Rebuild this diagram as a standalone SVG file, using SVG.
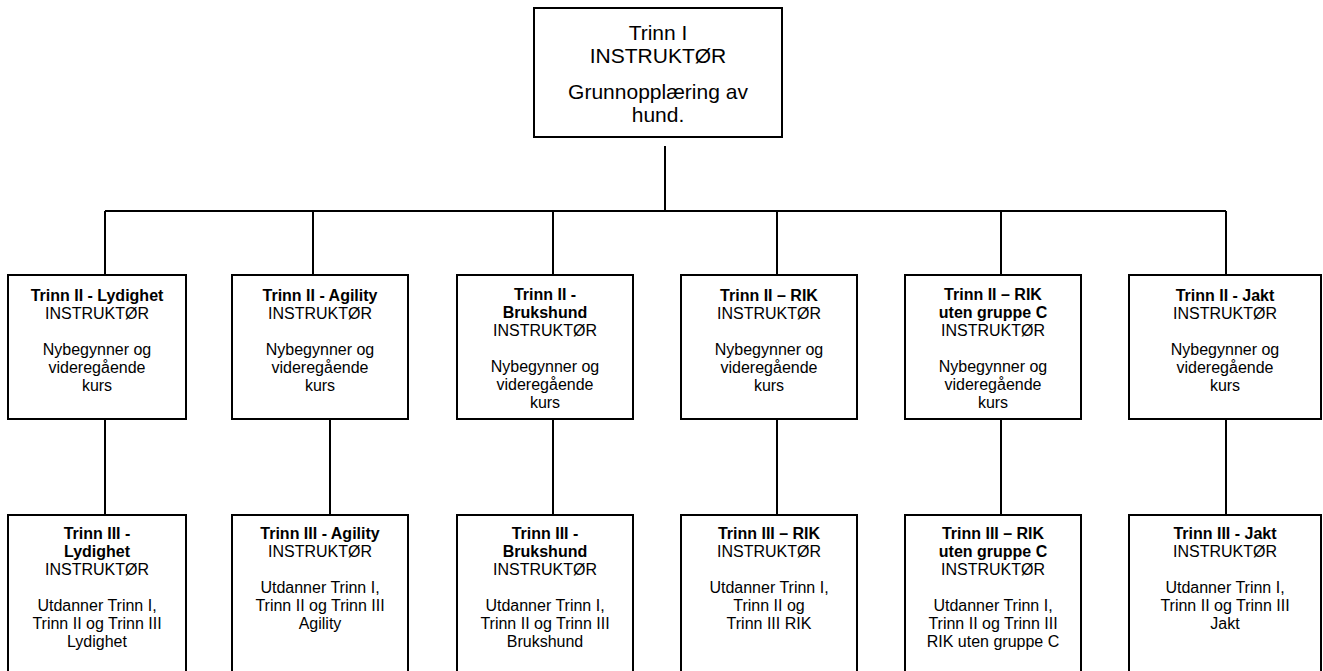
<svg xmlns="http://www.w3.org/2000/svg" width="1323" height="671" viewBox="0 0 1323 671">
<style>
.box{fill:#fff;stroke:#000;stroke-width:2}
.ln{stroke:#000;stroke-width:2;fill:none}
text{font-family:"Liberation Sans",Arial,sans-serif;fill:#000;text-anchor:middle}
.t{font-size:16px}
.b{font-weight:bold}
.top{font-size:21px}
</style>
<rect x="0" y="0" width="1323" height="671" fill="#fff"/>
<g id="connectors">
<path class="ln" d="M665 146V211M105 211H1226M105 211V275M313 211V275M553 211V275M777 211V275M1001 211V275M1226 211V275"/>
<path class="ln" d="M105 419V515M330 419V515M553 419V515M777 419V515M1001 419V515M1226 419V515"/>
</g>
<g id="n0">
<rect class="box" x="534" y="8" width="248" height="129"/>
<text class="top" x="658" y="40">Trinn I</text>
<text class="top" x="658" y="63">INSTRUKTØR</text>
<text class="top" x="658" y="99">Grunnopplæring av</text>
<text class="top" x="658" y="122">hund.</text>
</g>
<g id="n1">
<rect class="box" x="8" y="275" width="178" height="144"/>
<text class="t" x="97" y="301"><tspan class="b">Trinn II - Lydighet</tspan><tspan x="97" dy="18">INSTRUKTØR</tspan><tspan x="97" dy="36">Nybegynner og</tspan><tspan x="97" dy="18">videregående</tspan><tspan x="97" dy="18">kurs</tspan></text>
</g>
<g id="n2">
<rect class="box" x="232" y="275" width="176" height="144"/>
<text class="t" x="320" y="301"><tspan class="b">Trinn II - Agility</tspan><tspan x="320" dy="18">INSTRUKTØR</tspan><tspan x="320" dy="36">Nybegynner og</tspan><tspan x="320" dy="18">videregående</tspan><tspan x="320" dy="18">kurs</tspan></text>
</g>
<g id="n3">
<rect class="box" x="457" y="275" width="176" height="144"/>
<text class="t" x="545" y="300"><tspan class="b">Trinn II -</tspan><tspan class="b" x="545" dy="18">Brukshund</tspan><tspan x="545" dy="18">INSTRUKTØR</tspan><tspan x="545" dy="36">Nybegynner og</tspan><tspan x="545" dy="18">videregående</tspan><tspan x="545" dy="18">kurs</tspan></text>
</g>
<g id="n4">
<rect class="box" x="681" y="275" width="176" height="144"/>
<text class="t" x="769" y="301"><tspan class="b">Trinn II – RIK</tspan><tspan x="769" dy="18">INSTRUKTØR</tspan><tspan x="769" dy="36">Nybegynner og</tspan><tspan x="769" dy="18">videregående</tspan><tspan x="769" dy="18">kurs</tspan></text>
</g>
<g id="n5">
<rect class="box" x="905" y="275" width="176" height="144"/>
<text class="t" x="993" y="300"><tspan class="b">Trinn II – RIK</tspan><tspan class="b" x="993" dy="18">uten gruppe C</tspan><tspan x="993" dy="18">INSTRUKTØR</tspan><tspan x="993" dy="36">Nybegynner og</tspan><tspan x="993" dy="18">videregående</tspan><tspan x="993" dy="18">kurs</tspan></text>
</g>
<g id="n6">
<rect class="box" x="1129" y="275" width="192" height="144"/>
<text class="t" x="1225" y="301"><tspan class="b">Trinn II - Jakt</tspan><tspan x="1225" dy="18">INSTRUKTØR</tspan><tspan x="1225" dy="36">Nybegynner og</tspan><tspan x="1225" dy="18">videregående</tspan><tspan x="1225" dy="18">kurs</tspan></text>
</g>
<g id="n7">
<rect class="box" x="8" y="515" width="178" height="170"/>
<text class="t" x="97" y="539"><tspan class="b">Trinn III -</tspan><tspan class="b" x="97" dy="18">Lydighet</tspan><tspan x="97" dy="18">INSTRUKTØR</tspan><tspan x="97" dy="36">Utdanner Trinn I,</tspan><tspan x="97" dy="18">Trinn II og Trinn III</tspan><tspan x="97" dy="18">Lydighet</tspan></text>
</g>
<g id="n8">
<rect class="box" x="232" y="515" width="176" height="170"/>
<text class="t" x="320" y="539"><tspan class="b">Trinn III - Agility</tspan><tspan x="320" dy="18">INSTRUKTØR</tspan><tspan x="320" dy="36">Utdanner Trinn I,</tspan><tspan x="320" dy="18">Trinn II og Trinn III</tspan><tspan x="320" dy="18">Agility</tspan></text>
</g>
<g id="n9">
<rect class="box" x="457" y="515" width="176" height="170"/>
<text class="t" x="545" y="539"><tspan class="b">Trinn III -</tspan><tspan class="b" x="545" dy="18">Brukshund</tspan><tspan x="545" dy="18">INSTRUKTØR</tspan><tspan x="545" dy="36">Utdanner Trinn I,</tspan><tspan x="545" dy="18">Trinn II og Trinn III</tspan><tspan x="545" dy="18">Brukshund</tspan></text>
</g>
<g id="n10">
<rect class="box" x="681" y="515" width="176" height="170"/>
<text class="t" x="769" y="539"><tspan class="b">Trinn III – RIK</tspan><tspan x="769" dy="18">INSTRUKTØR</tspan><tspan x="769" dy="36">Utdanner Trinn I,</tspan><tspan x="769" dy="18">Trinn II og</tspan><tspan x="769" dy="18">Trinn III RIK</tspan></text>
</g>
<g id="n11">
<rect class="box" x="905" y="515" width="176" height="170"/>
<text class="t" x="993" y="539"><tspan class="b">Trinn III – RIK</tspan><tspan class="b" x="993" dy="18">uten gruppe C</tspan><tspan x="993" dy="18">INSTRUKTØR</tspan><tspan x="993" dy="36">Utdanner Trinn I,</tspan><tspan x="993" dy="18">Trinn II og Trinn III</tspan><tspan x="993" dy="18">RIK uten gruppe C</tspan></text>
</g>
<g id="n12">
<rect class="box" x="1129" y="515" width="192" height="170"/>
<text class="t" x="1225" y="539"><tspan class="b">Trinn III - Jakt</tspan><tspan x="1225" dy="18">INSTRUKTØR</tspan><tspan x="1225" dy="36">Utdanner Trinn I,</tspan><tspan x="1225" dy="18">Trinn II og Trinn III</tspan><tspan x="1225" dy="18">Jakt</tspan></text>
</g>
</svg>
